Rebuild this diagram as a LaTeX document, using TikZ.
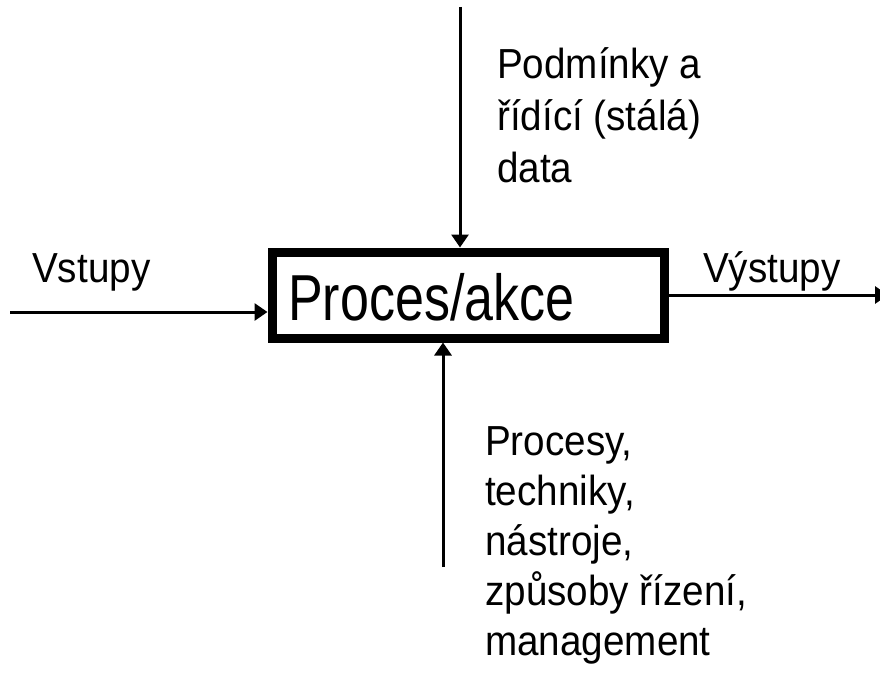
\documentclass[tikz,border=0pt]{standalone}
\usepackage{fontspec}
\setmainfont{Liberation Sans}[FakeStretch=0.92]
\newfontfamily\titlefont{Liberation Sans}[FakeStretch=0.8]
\usetikzlibrary{arrows.meta}
\tikzset{
  x=1pt, y=-1pt,
  procbox/.style={draw, line width=9pt, minimum width=392pt, minimum height=86pt, inner sep=0pt},
  flow/.style={line width=3pt, -{Triangle[length=13pt,width=17pt]}},
  lbl/.style={inner sep=0pt, font=\fontsize{42}{50}\selectfont},
  multilbl/.style={lbl, align=left},
}
\begin{document}
\begin{tikzpicture}
  \useasboundingbox (0,0) rectangle (880,677);

  % the process box and its title
  \node[procbox] (box) at (468,295) {};
  \node[inner sep=0pt, anchor=base west, font=\titlefont\fontsize{65}{70}\selectfont] (title) at (288,320)
    {Proces/akce};

  % free ends of the connectors
  \coordinate (inA)  at (10,312);
  \coordinate (outA) at (888,295);
  \coordinate (ctlA) at (460,7);
  \coordinate (mecA) at (443,567);

  % connectors
  \draw[flow] (inA) -- (inA -| box.west);
  \draw[flow] (box.east |- outA) -- (outA);
  \draw[flow] (ctlA) -- (ctlA |- box.north);
  \draw[flow] (mecA) -- (mecA |- box.south);

  % labels (multi-line labels are placed by the baseline of their last line)
  \node[lbl, anchor=base west] (inlbl)  at (32,282)  {Vstupy};
  \node[lbl, anchor=base west] (outlbl) at (703,282) {Výstupy};
  \node[multilbl, anchor=base west, font=\fontsize{42}{52}\selectfont] (ctllbl) at (497,182)
    {Podmínky a\\řídící (stálá)\\data};
  \node[multilbl, anchor=base west] (meclbl) at (485,655)
    {Procesy,\\techniky,\\nástroje,\\způsoby řízení,\\management};
\end{tikzpicture}
\end{document}
